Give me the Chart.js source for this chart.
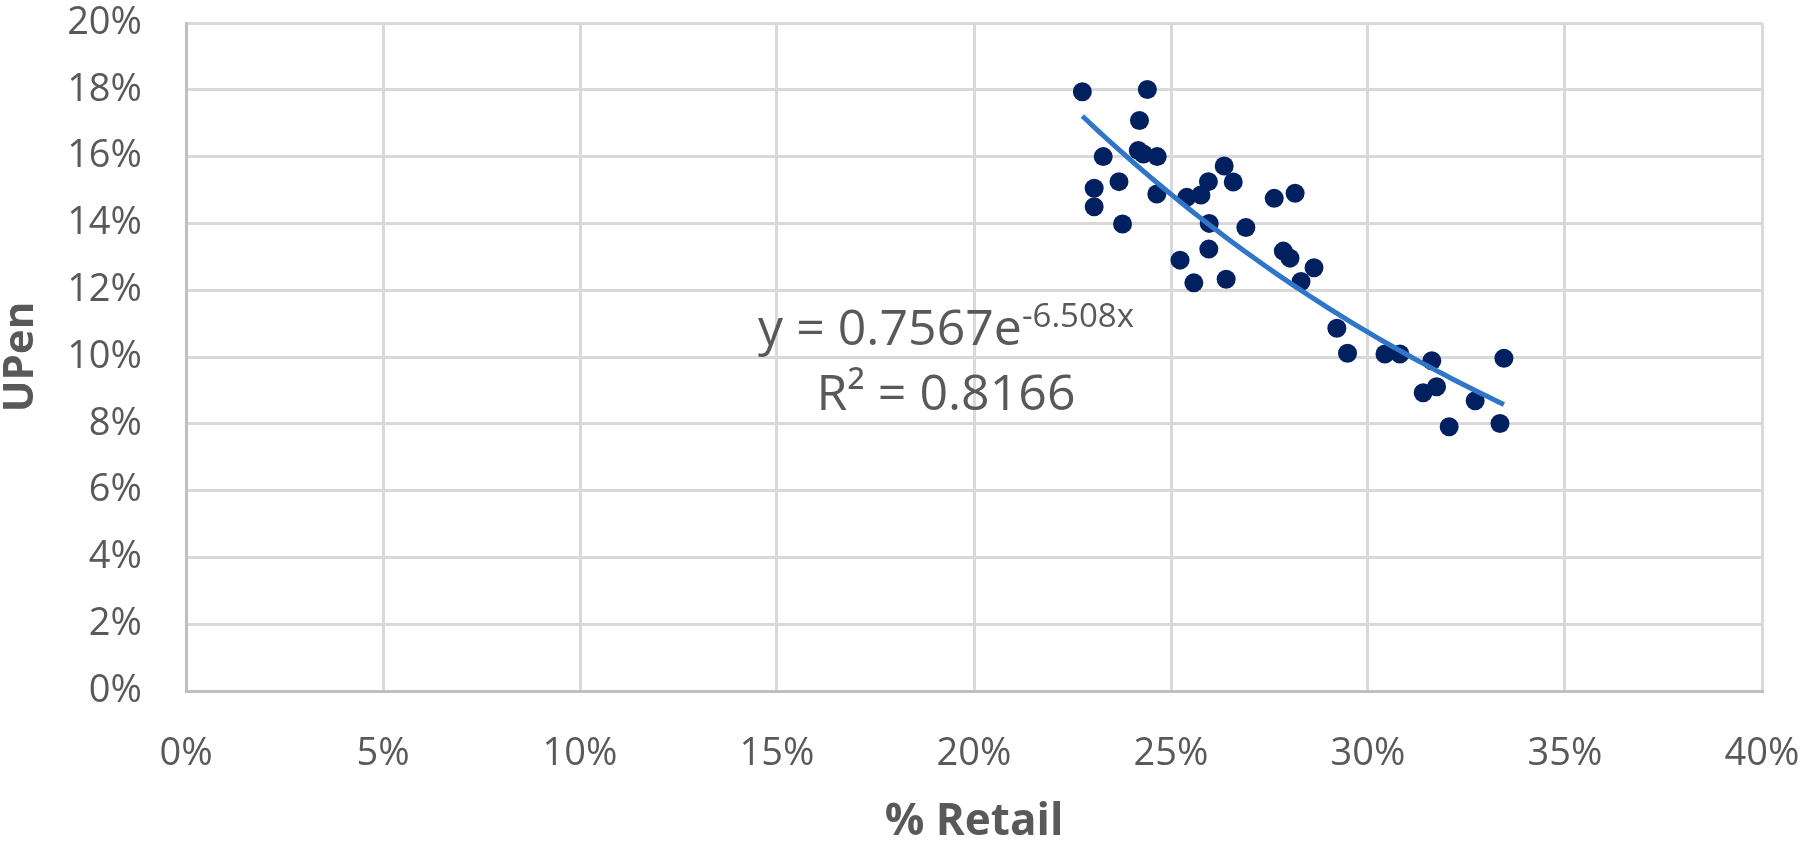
<!DOCTYPE html>
<html>
<head>
<meta charset="utf-8">
<script src="https://cdn.jsdelivr.net/npm/chart.js@4/dist/chart.umd.min.js"></script>
<style>
    html, body { margin: 0; padding: 0; background: #fff; }
    #wrap { width: 1807px; height: 847px; }
</style>
</head>
<body>
<div id="wrap"><canvas id="chart" width="1807" height="847"></canvas></div>
<script>
// % Retail (x) and UPen (y)
const retailPct = [0.2275, 0.2440, 0.2420, 0.2328, 0.2417, 0.2430, 0.2465, 0.2368, 0.2305, 0.2305,
                   0.2377, 0.2464, 0.2540, 0.2576, 0.2595, 0.2635, 0.2658, 0.2597, 0.2690, 0.2596,
                   0.2523, 0.2558, 0.2640, 0.2762, 0.2815, 0.2785, 0.2802, 0.2863, 0.2830, 0.2921,
                   0.2948, 0.3043, 0.3081, 0.3162, 0.3140, 0.3174, 0.3272, 0.3206, 0.3335, 0.3345];
const upenPct   = [0.1794, 0.1801, 0.1708, 0.1600, 0.1618, 0.1608, 0.1600, 0.1525, 0.1505, 0.1450,
                   0.1398, 0.1488, 0.1478, 0.1485, 0.1525, 0.1572, 0.1524, 0.1400, 0.1388, 0.1323,
                   0.1290, 0.1222, 0.1233, 0.1475, 0.1490, 0.1317, 0.1296, 0.1267, 0.1226, 0.1086,
                   0.1011, 0.1009, 0.1009, 0.0989, 0.0893, 0.0911, 0.0869, 0.0791, 0.0801, 0.0996];

// exponential trendline as printed on the chart
const trendA = 0.7567;
const trendB = -6.508;
const trendR2 = '0.8166';

const xTickValues = [0, 0.05, 0.10, 0.15, 0.20, 0.25, 0.30, 0.35, 0.40];
const yTickValues = [0, 0.02, 0.04, 0.06, 0.08, 0.10, 0.12, 0.14, 0.16, 0.18, 0.20];

const FONT = "'Open Sans', sans-serif";
const TEXT = '#595959';

const points = retailPct.map((x, i) => ({ x: x, y: upenPct[i] }));

// trendline over the data range
const xMin = Math.min(...retailPct);
const xMax = Math.max(...retailPct);
const trendPts = [];
for (let i = 0; i <= 50; i++) {
    const x = xMin + (xMax - xMin) * i / 50;
    trendPts.push({ x: x, y: trendA * Math.exp(trendB * x) });
}

// equation label, anchored in data units
const eqAnchor = { x: 0.1929, y1: 0.1035, y2: 0.0841 };

const trendLabel = {
    id: 'trendLabel',
    afterDatasetsDraw(chart) {
        const { ctx } = chart;
        const xs = chart.scales.x, ys = chart.scales.y;
        const cx = xs.getPixelForValue(eqAnchor.x);
        const b1 = ys.getPixelForValue(eqAnchor.y1);
        const b2 = ys.getPixelForValue(eqAnchor.y2);

        ctx.save();
        ctx.fillStyle = TEXT;
        ctx.textBaseline = 'alphabetic';

        const main = 'y = ' + trendA + 'e';
        const sup = trendB + 'x';
        ctx.font = '50px ' + FONT;
        const wMain = ctx.measureText(main).width;
        ctx.font = '33px ' + FONT;
        const wSup = ctx.measureText(sup).width;
        const left = cx - (wMain + wSup) / 2;

        ctx.textAlign = 'left';
        ctx.font = '50px ' + FONT;
        ctx.fillText(main, left, b1);
        ctx.font = '33px ' + FONT;
        ctx.fillText(sup, left + wMain, b1 - 18);

        ctx.textAlign = 'center';
        ctx.font = '50px ' + FONT;
        ctx.fillText('R\u00B2 = ' + trendR2, cx, b2);
        ctx.restore();
    }
};

const pct = v => Math.round(v * 100) + '%';

new Chart(document.getElementById('chart'), {
    type: 'scatter',
    data: {
        datasets: [
            {
                type: 'line',
                label: 'Trend',
                data: trendPts,
                borderColor: '#2F75C8',
                borderWidth: 5,
                pointRadius: 0,
                fill: false,
                tension: 0,
                order: 0
            },
            {
                label: 'UPen',
                data: points,
                backgroundColor: '#002060',
                borderColor: '#002060',
                borderWidth: 0,
                pointRadius: 9.5,
                order: 1
            }
        ]
    },
    options: {
        responsive: false,
        animation: false,
        devicePixelRatio: 1,
        layout: { padding: { top: 23, right: 45, left: 0, bottom: 0 } },
        plugins: {
            legend: { display: false },
            tooltip: { enabled: false }
        },
        scales: {
            x: {
                type: 'linear',
                min: 0,
                max: 0.4,
                afterBuildTicks: s => { s.ticks = xTickValues.map(v => ({ value: v })); },
                afterFit: s => { s.height = 156; s.paddingLeft = 0; s.paddingRight = 0; },
                grid: { color: '#D9D9D9', lineWidth: 3, drawTicks: false },
                border: { color: '#BFBFBF', width: 3 },
                ticks: {
                    padding: 40,
                    color: TEXT,
                    font: { family: FONT, size: 38 },
                    callback: v => pct(v)
                },
                title: {
                    display: true,
                    text: '% Retail',
                    color: TEXT,
                    font: { family: FONT, size: 44, weight: 'bold', lineHeight: 1 },
                    padding: { top: 0, bottom: 3 }
                }
            },
            y: {
                type: 'linear',
                min: 0,
                max: 0.2,
                afterBuildTicks: s => { s.ticks = yTickValues.map(v => ({ value: v })); },
                afterFit: s => { s.width = 186; s.paddingTop = 0; s.paddingBottom = 0; },
                grid: { color: '#D9D9D9', lineWidth: 3, drawTicks: false },
                border: { color: '#BFBFBF', width: 3 },
                ticks: {
                    padding: 44,
                    color: TEXT,
                    font: { family: FONT, size: 38 },
                    callback: v => pct(v)
                },
                title: {
                    display: true,
                    text: 'UPen',
                    color: TEXT,
                    font: { family: FONT, size: 42, weight: 'bold', lineHeight: 1 },
                    padding: { top: 0, bottom: 0 }
                }
            }
        }
    },
    plugins: [trendLabel]
});
</script>
</body>
</html>
